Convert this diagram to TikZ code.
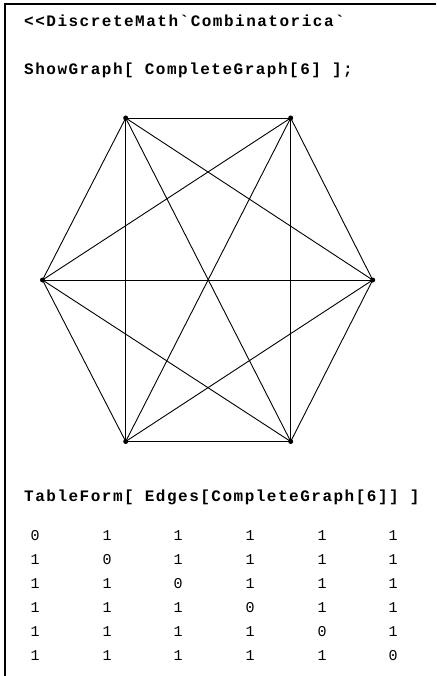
\documentclass[tikz,border=0pt]{standalone}
\usepackage{fontspec}
\setmonofont{Liberation Mono}[LetterSpace=9.4]
\tikzset{
  input/.style={font=\ttfamily\bfseries\fontsize{16}{16}\selectfont,anchor=base west,inner sep=0pt},
  entry/.style={font=\ttfamily\fontsize{15}{15}\selectfont,anchor=base,inner sep=0pt},
  vertex/.style={circle,fill=black,inner sep=0pt,minimum size=5pt},
  edge/.style={draw=black,line width=0.9pt},
  frame/.style={line width=2pt}
}
\begin{document}
\begin{tikzpicture}[x=1pt,y=-1pt]
  \useasboundingbox (0,0) rectangle (436,676);
  \fill[white] (0,0) rectangle (436,676);
  % cell bracket
  \draw[frame] (5,676) -- (5,4) -- (436,4);
  \node[input] (load) at (24,27) {<<DiscreteMath`Combinatorica`};
  \node[input] (show) at (24,75) {ShowGraph[ CompleteGraph[6] ];};
  % K6
  \node[vertex] (v1) at (125.7,118) {};
  \node[vertex] (v2) at (290.7,118) {};
  \node[vertex] (v3) at (372.7,280) {};
  \node[vertex] (v4) at (290.7,441.5) {};
  \node[vertex] (v5) at (125.7,441.5) {};
  \node[vertex] (v6) at (42.5,280) {};
  \foreach \a in {1,...,5}{
    \pgfmathtruncatemacro\nxt{\a+1}
    \foreach \b in {\nxt,...,6}
      \draw[edge] (v\a.center) -- (v\b.center);
  }
  % adjacency table
  \node[input] (table) at (24,501) {TableForm[ Edges[CompleteGraph[6]] ]};
  \foreach \i in {1,...,6}{
    \foreach \j/\x in {1/35,2/107,3/178,4/250,5/322,6/393}
      \node[entry] (e\i\j) at (\x,516+24*\i) {\ifnum\i=\j\relax 0\else 1\fi};
  }
\end{tikzpicture}
\end{document}
